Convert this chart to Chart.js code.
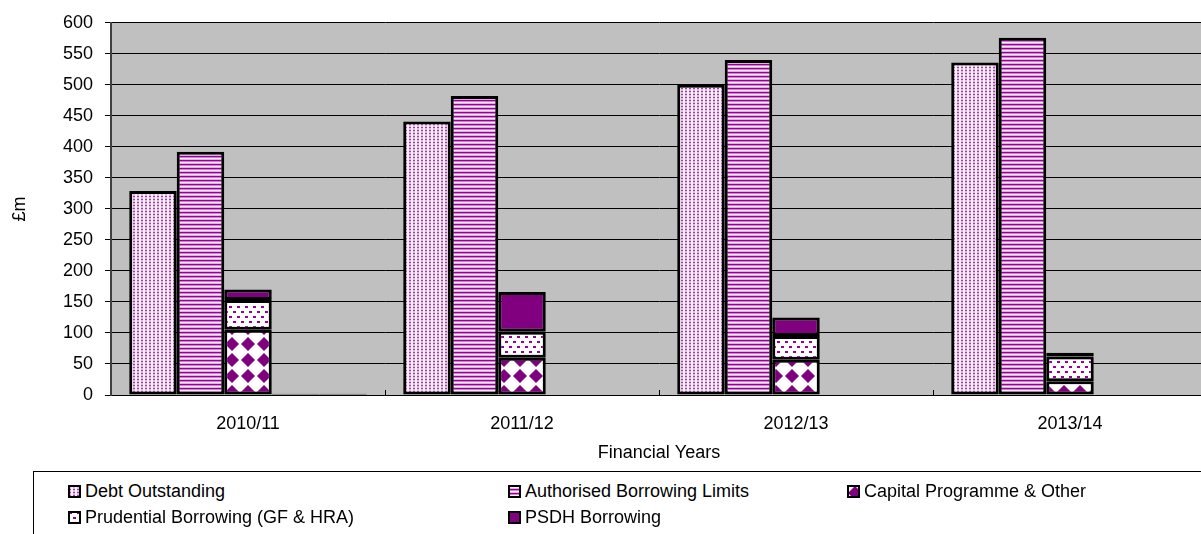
<!DOCTYPE html>
<html>
<head>
<meta charset="utf-8">
<script src="https://cdn.jsdelivr.net/npm/chart.js@4/dist/chart.umd.min.js"></script>
<style>
    html, body { margin: 0; padding: 0; background: #fff; overflow: hidden; }
    body { width: 1201px; height: 534px; position: relative; font-family: "Liberation Sans", Arial, sans-serif; }
    #chart { position: absolute; left: 0; top: 0; }
    #legend {
        position: absolute; left: 33px; top: 471px; width: 1200px; height: 80px;
        border: 1px solid #000; box-sizing: border-box;
        display: grid; grid-template-columns: 440px 339px auto; grid-auto-rows: 26px;
        padding: 6px 0 0 34px;
    }
    .item { display: flex; align-items: center; font-size: 18px; color: #000; white-space: nowrap; }
    .item canvas { margin-right: 4px; }
</style>
</head>
<body>
<canvas id="chart" width="1209" height="470"></canvas>
<div id="legend"></div>
<script>
const categories = ["2010/11", "2011/12", "2012/13", "2013/14"];

const debtOutstanding = [329, 441, 500, 536];
const authorisedLimits = [392, 482, 540, 576];
const capitalProgramme = [105, 60, 57, 22];
const prudentialBorrowing = [48, 42, 38, 40];
const psdhBorrowing = [17, 64, 30, 6];
const spareA = [2, 0, 0, 0];
const spareB = [2, 0, 0, 0];

const yTicks = { min: 0, max: 600, step: 50 };

// small tiled fills in the old spreadsheet style
function makePattern(w, h, draw) {
    const c = document.createElement("canvas");
    c.width = w;
    c.height = h;
    const g = c.getContext("2d");
    draw(g);
    return g.createPattern(c, "repeat");
}

const dotted = makePattern(4, 3, g => {
    g.fillStyle = "#fbf1fb";
    g.fillRect(0, 0, 4, 3);
    g.fillStyle = "#e2b6e2";
    g.fillRect(1, 0, 2, 3);
    g.fillStyle = "#a33ca3";
    g.fillRect(1, 1, 2, 1);
});

const striped = makePattern(1, 4, g => {
    const rows = ["#990099", "#d27dd2", "#fbeffb", "#e2aee2"];
    rows.forEach((c, i) => { g.fillStyle = c; g.fillRect(0, i, 1, 1); });
});

const diamonds = makePattern(16, 16, g => {
    g.fillStyle = "#fff";
    g.fillRect(0, 0, 16, 16);
    g.fillStyle = "#800080";
    g.beginPath();
    g.moveTo(8, 1); g.lineTo(15, 8); g.lineTo(8, 15); g.lineTo(1, 8);
    g.closePath();
    g.fill();
});

const dashes = makePattern(8, 10, g => {
    g.fillStyle = "#fff";
    g.fillRect(0, 0, 8, 10);
    g.fillStyle = "#990099";
    g.fillRect(1, 1, 3, 2);
    g.fillRect(5, 6, 3, 2);
});

const solid = "#800080";

const datasets = [
    { label: "Debt Outstanding", data: debtOutstanding, backgroundColor: dotted, stack: "debt" },
    { label: "Authorised Borrowing Limits", data: authorisedLimits, backgroundColor: striped, stack: "limit" },
    { label: "Capital Programme & Other", data: capitalProgramme, backgroundColor: diamonds, stack: "split" },
    { label: "Prudential Borrowing (GF & HRA)", data: prudentialBorrowing, backgroundColor: dashes, stack: "split" },
    { label: "PSDH Borrowing", data: psdhBorrowing, backgroundColor: solid, stack: "split" },
    { label: "spareA", data: spareA, backgroundColor: "#000", stack: "spareA", inLegend: false },
    { label: "spareB", data: spareB, backgroundColor: "#000", stack: "spareB", inLegend: false },
].map(d => ({
    borderColor: "#000",
    borderWidth: 3,
    borderSkipped: false,
    ...d,
}));

const plotBackground = {
    id: "plotBackground",
    beforeDraw(chart) {
        const { ctx, chartArea: a } = chart;
        ctx.save();
        ctx.fillStyle = "#c0c0c0";
        ctx.fillRect(a.left, a.top, a.right - a.left, a.bottom - a.top);
        ctx.restore();
    }
};

const font = { family: "'Liberation Sans', Arial, sans-serif", size: 18 };

const chart = new Chart(document.getElementById("chart").getContext("2d"), {
    type: "bar",
    data: { labels: categories, datasets },
    options: {
        responsive: false,
        animation: false,
        devicePixelRatio: 1,
        categoryPercentage: 0.867,
        barPercentage: 1,
        layout: { padding: { top: 20, right: 2, left: 0, bottom: 0 } },
        plugins: {
            legend: { display: false },
            tooltip: { enabled: false },
        },
        scales: {
            x: {
                stacked: true,
                grid: { drawOnChartArea: false, color: "#000", tickLength: -5 },
                border: { color: "#000", width: 1 },
                ticks: { color: "#000", font, padding: 23, maxRotation: 0 },
                title: { display: true, text: "Financial Years", color: "#000", font, padding: { top: 0, bottom: 6 } },
                afterFit(scale) { scale.height = 75; },
            },
            y: {
                stacked: true,
                min: yTicks.min,
                max: yTicks.max,
                grid: { color: "#000", lineWidth: 1, tickLength: 6 },
                border: { color: "#404040", width: 2 },
                ticks: { stepSize: yTicks.step, color: "#000", font, padding: 12 },
                title: { display: true, text: "£m", color: "#000", font, padding: { top: 9, bottom: 0 } },
                afterFit(scale) { scale.width = 111; },
            },
        },
    },
    plugins: [plotBackground],
});

// legend laid out in three columns below the plot
const legend = document.getElementById("legend");
chart.data.datasets.filter(d => d.inLegend !== false).forEach(d => {
    const item = document.createElement("div");
    item.className = "item";
    const icon = document.createElement("canvas");
    icon.width = 13;
    icon.height = 13;
    const g = icon.getContext("2d");
    g.fillStyle = d.backgroundColor;
    g.fillRect(0, 0, 13, 13);
    g.strokeStyle = "#000";
    g.lineWidth = 2;
    g.strokeRect(1, 1, 11, 11);
    const text = document.createElement("span");
    text.textContent = d.label;
    item.appendChild(icon);
    item.appendChild(text);
    legend.appendChild(item);
});
</script>
</body>
</html>
